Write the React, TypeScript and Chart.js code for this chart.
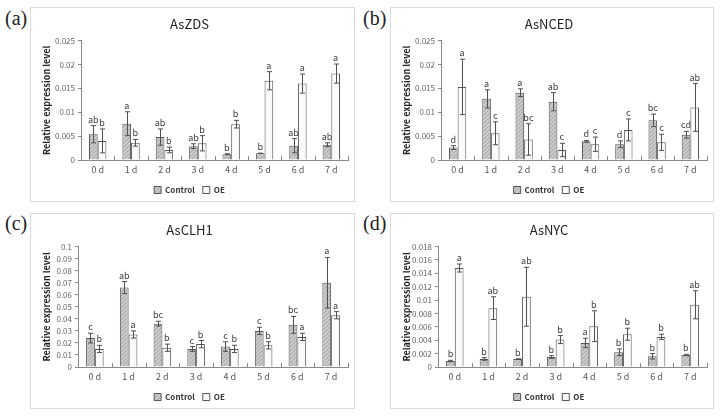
import { useEffect, useRef } from "react";
import { Chart, registerables } from "chart.js";

Chart.register(...registerables);

const days = ["0 d", "1 d", "2 d", "3 d", "4 d", "5 d", "6 d", "7 d"];

// (a) AsZDS
const zdsControl = [0.0054, 0.0076, 0.0048, 0.0029, 0.0012, 0.0014, 0.003, 0.0032];
const zdsControlErr = [0.0018, 0.0025, 0.0017, 0.0005, 0.0001, 0.0, 0.0015, 0.0004];
const zdsOE = [0.004, 0.0036, 0.0021, 0.0035, 0.0075, 0.0166, 0.016, 0.0181];
const zdsOEErr = [0.0025, 0.0007, 0.0006, 0.0016, 0.0008, 0.0019, 0.002, 0.002];
const zdsControlSig = ["ab", "a", "ab", "ab", "b", "b", "ab", "ab"];
const zdsOESig = ["b", "b", "b", "b", "b", "a", "a", "a"];

// (b) AsNCED
const ncedControl = [0.0026, 0.0128, 0.0141, 0.0122, 0.0039, 0.0033, 0.0083, 0.0053];
const ncedControlErr = [0.0004, 0.0019, 0.0008, 0.0019, 0.0002, 0.0007, 0.0013, 0.0007];
const ncedOE = [0.0153, 0.0056, 0.0043, 0.0021, 0.0033, 0.0063, 0.0037, 0.011];
const ncedOEErr = [0.0058, 0.0024, 0.0033, 0.0014, 0.0015, 0.0023, 0.0017, 0.005];
const ncedControlSig = ["d", "a", "a", "ab", "d", "d", "bc", "cd"];
const ncedOESig = ["a", "c", "bc", "c", "c", "c", "c", "ab"];

// (c) AsCLH1
const clhControl = [0.024, 0.066, 0.036, 0.015, 0.017, 0.03, 0.035, 0.07];
const clhControlErr = [0.004, 0.005, 0.002, 0.002, 0.004, 0.003, 0.007, 0.021];
const clhOE = [0.015, 0.027, 0.016, 0.019, 0.015, 0.018, 0.025, 0.043];
const clhOEErr = [0.003, 0.003, 0.003, 0.003, 0.003, 0.003, 0.003, 0.003];
const clhControlSig = ["c", "ab", "bc", "c", "c", "c", "bc", "a"];
const clhOESig = ["b", "a", "b", "b", "b", "b", "a", "a"];

// (d) AsNYC
const nycControl = [0.0009, 0.0012, 0.0012, 0.0015, 0.0036, 0.0022, 0.0016, 0.0018];
const nycControlErr = [0.0001, 0.0002, 0.0, 0.0002, 0.0007, 0.0005, 0.0004, 0.0001];
const nycOE = [0.0148, 0.0088, 0.0105, 0.0041, 0.0061, 0.0049, 0.0045, 0.0093];
const nycOEErr = [0.0006, 0.0017, 0.0044, 0.0006, 0.0023, 0.0009, 0.0004, 0.0021];
const nycControlSig = ["b", "b", "b", "b", "a", "b", "b", "b"];
const nycOESig = ["a", "ab", "ab", "b", "b", "b", "b", "ab"];

const FONT = "'Noto Sans CJK KR', 'Noto Sans', sans-serif";

function hatch(): CanvasPattern | string {
  const c = document.createElement("canvas");
  c.width = 4;
  c.height = 4;
  const g = c.getContext("2d");
  if (!g) return "#c4c4c4";
  g.fillStyle = "#cacaca";
  g.fillRect(0, 0, 4, 4);
  g.strokeStyle = "#a4a4a4";
  g.lineWidth = 1;
  g.beginPath();
  g.moveTo(0, 4);
  g.lineTo(4, 0);
  g.stroke();
  return g.createPattern(c, "repeat") || "#c4c4c4";
}

const errorBars = {
  id: "errorBars",
  afterDatasetsDraw(chart: any) {
    const { ctx, scales } = chart;
    const y = scales.y;
    const x = scales.x;
    ctx.save();
    // inward category tick marks on x axis
    const step = x.getPixelForValue(1) - x.getPixelForValue(0);
    ctx.strokeStyle = "#8a8a8a";
    ctx.lineWidth = 1;
    for (let i = 1; i <= days.length; i++) {
      const px = Math.round(x.getPixelForValue(i) - step / 2) + 0.5;
      ctx.beginPath();
      ctx.moveTo(px, y.bottom);
      ctx.lineTo(px, y.bottom - 4);
      ctx.stroke();
    }
    chart.data.datasets.forEach((ds: any, i: number) => {
      const meta = chart.getDatasetMeta(i);
      meta.data.forEach((el: any, j: number) => {
        const v = ds.data[j];
        const e = ds.err[j];
        const top = y.getPixelForValue(v + e);
        const bot = y.getPixelForValue(Math.max(0, v - e));
        const cx = Math.round(el.x) + 0.5;
        ctx.strokeStyle = "#505050";
        ctx.beginPath();
        ctx.moveTo(cx, top);
        ctx.lineTo(cx, bot);
        ctx.moveTo(cx - 2.5, top);
        ctx.lineTo(cx + 2.5, top);
        ctx.moveTo(cx - 2.5, bot);
        ctx.lineTo(cx + 2.5, bot);
        ctx.stroke();
        ctx.fillStyle = "#3a3a3a";
        ctx.font = `9px ${FONT}`;
        ctx.textAlign = "center";
        ctx.textBaseline = "alphabetic";
        ctx.fillText(ds.sig[j], el.x, top - 3);
      });
    });
    ctx.restore();
  },
  afterDraw(chart: any) {
    // category labels under the x axis
    const { ctx, scales } = chart;
    const x = scales.x;
    const y = scales.y;
    ctx.save();
    ctx.fillStyle = "#555555";
    ctx.font = `9px ${FONT}`;
    ctx.textAlign = "center";
    ctx.textBaseline = "middle";
    chart.data.labels.forEach((lab: string, i: number) => {
      ctx.fillText(lab, x.getPixelForValue(i), y.bottom + 10);
    });
    ctx.restore();
  },
};

type PanelProps = {
  title: string;
  control: number[];
  controlErr: number[];
  controlSig: string[];
  oe: number[];
  oeErr: number[];
  oeSig: string[];
  yMax: number;
  yStep: number;
  axisWidth: number;
  left: number;
  top: number;
  width: number;
  height: number;
};

function Panel(p: PanelProps) {
  const canvasRef = useRef<HTMLCanvasElement | null>(null);
  const chartRef = useRef<Chart | null>(null);

  useEffect(() => {
    if (!canvasRef.current) {
      return;
    }
    if (chartRef.current) {
      chartRef.current.destroy();
    }

    chartRef.current = new Chart(canvasRef.current, {
      type: "bar",
      data: {
        labels: days,
        datasets: [
          {
            label: "Control",
            data: p.control,
            err: p.controlErr,
            sig: p.controlSig,
            backgroundColor: hatch(),
            borderColor: "#555555",
            borderWidth: 1,
            categoryPercentage: 0.52,
            barPercentage: 1,
          } as any,
          {
            label: "OE",
            data: p.oe,
            err: p.oeErr,
            sig: p.oeSig,
            backgroundColor: "#fbfbfb",
            borderColor: "#555555",
            borderWidth: 1,
            categoryPercentage: 0.52,
            barPercentage: 1,
          } as any,
        ],
      },
      options: {
        responsive: false,
        animation: false,
        layout: { padding: { left: 0, right: 6, top: 0, bottom: -3 } },
        plugins: {
          title: {
            display: true,
            text: p.title,
            color: "#222222",
            font: { family: FONT, size: 13, weight: "normal" },
            padding: { top: 8, bottom: 9 },
          },
          legend: {
            position: "bottom",
            labels: {
              boxWidth: 7,
              boxHeight: 7,
              padding: 8,
              color: "#333333",
              font: { family: FONT, size: 8, weight: "bold" },
            },
          },
          tooltip: { enabled: false },
        },
        scales: {
          x: {
            grid: { display: false },
            border: { color: "#8a8a8a" },
            ticks: { display: false },
            afterFit: (s: any) => {
              s.height = 18;
            },
          },
          y: {
            min: 0,
            max: p.yMax,
            grid: {
              drawOnChartArea: false,
              drawTicks: true,
              tickLength: 3,
              color: "#8a8a8a",
            },
            border: { color: "#8a8a8a" },
            ticks: {
              stepSize: p.yStep,
              autoSkip: false,
              padding: 3,
              color: "#666666",
              font: { family: FONT, size: 8 },
              callback: (v: any) => String(Number(Number(v).toFixed(4))),
            },
            title: {
              display: true,
              text: "Relative expression level",
              color: "#222222",
              font: { family: FONT, size: 9, weight: "bold" },
              padding: { top: 10, bottom: 0 },
            },
            afterFit: (s: any) => {
              s.width = p.axisWidth;
            },
          },
        },
      },
      plugins: [errorBars],
    });

    return () => {
      chartRef.current?.destroy();
    };
  }, [p]);

  return (
    <div
      style={{
        position: "absolute",
        left: p.left,
        top: p.top,
        width: p.width,
        height: p.height,
        boxSizing: "border-box",
        border: "1px solid #d9d9d9",
        background: "#fff",
      }}
    >
      <canvas ref={canvasRef} width={p.width - 2} height={p.height - 2} />
    </div>
  );
}

const labelStyle = {
  position: "absolute" as const,
  fontFamily: "'Liberation Serif', 'DejaVu Serif', serif",
  fontSize: 20,
  color: "#222",
  lineHeight: "22px",
};

export default function App() {
  return (
    <div
      style={{
        position: "absolute",
        left: 0,
        top: 0,
        width: 721,
        height: 420,
        background: "#fff",
        overflow: "hidden",
      }}
    >
      <Panel
        title="AsZDS"
        control={zdsControl}
        controlErr={zdsControlErr}
        controlSig={zdsControlSig}
        oe={zdsOE}
        oeErr={zdsOEErr}
        oeSig={zdsOESig}
        yMax={0.025}
        yStep={0.005}
        axisWidth={50}
        left={30}
        top={7}
        width={325}
        height={195}
      />
      <Panel
        title="AsNCED"
        control={ncedControl}
        controlErr={ncedControlErr}
        controlSig={ncedControlSig}
        oe={ncedOE}
        oeErr={ncedOEErr}
        oeSig={ncedOESig}
        yMax={0.025}
        yStep={0.005}
        axisWidth={50}
        left={390}
        top={7}
        width={324}
        height={195}
      />
      <Panel
        title="AsCLH1"
        control={clhControl}
        controlErr={clhControlErr}
        controlSig={clhControlSig}
        oe={clhOE}
        oeErr={clhOEErr}
        oeSig={clhOESig}
        yMax={0.1}
        yStep={0.01}
        axisWidth={47}
        left={30}
        top={213}
        width={325}
        height={196}
      />
      <Panel
        title="AsNYC"
        control={nycControl}
        controlErr={nycControlErr}
        controlSig={nycControlSig}
        oe={nycOE}
        oeErr={nycOEErr}
        oeSig={nycOESig}
        yMax={0.018}
        yStep={0.002}
        axisWidth={47}
        left={390}
        top={213}
        width={324}
        height={196}
      />
      <div style={{ ...labelStyle, left: 5, top: 7 }}>(a)</div>
      <div style={{ ...labelStyle, left: 363, top: 7 }}>(b)</div>
      <div style={{ ...labelStyle, left: 5, top: 212 }}>(c)</div>
      <div style={{ ...labelStyle, left: 363, top: 212 }}>(d)</div>
    </div>
  );
}
